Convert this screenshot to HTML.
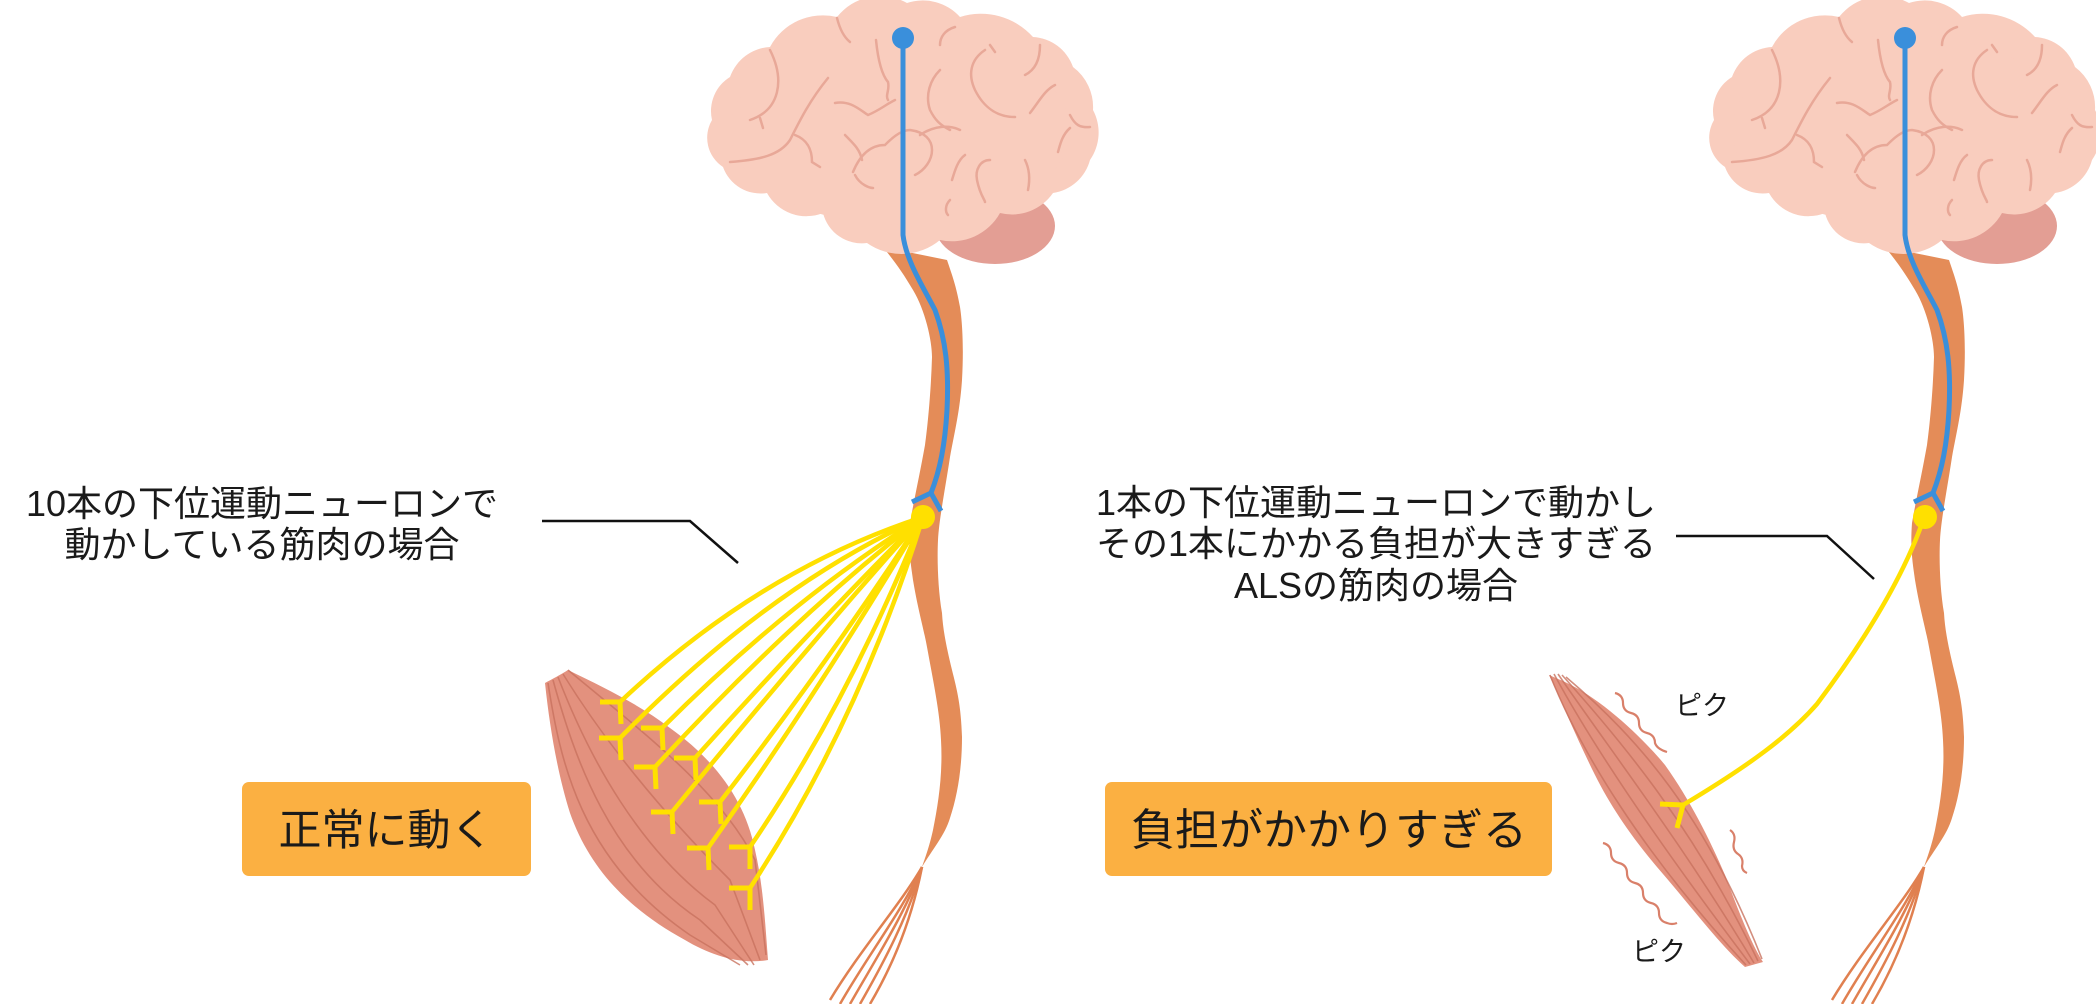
<!DOCTYPE html>
<html><head><meta charset="utf-8">
<style>
html,body{margin:0;padding:0;background:#fff;}
body{width:2096px;height:1004px;overflow:hidden;position:relative;}
svg{position:absolute;left:0;top:0;}
.t{font-family:"Liberation Sans","Noto Sans CJK JP",sans-serif;fill:#1a1a1a;}
</style></head><body>
<svg width="2096" height="1004" viewBox="0 0 2096 1004" xmlns="http://www.w3.org/2000/svg">
<defs>
<g id="brainspine">
  <ellipse cx="995" cy="226" rx="60" ry="38" fill="#E39E94"/>
  <path d="M883,247 C895,262 903,273 913,290 C925,310 932,340 932,357 C931,390 928,423 925,445 C920,473 914,500 910,523 C908,550 911,565 913,580 C918,610 924,630 927,647 C933,680 940,713 941,740 C943,775 938,805 933,830 C929,848 925,858 922,867 C932,850 945,835 950,818 C957,797 962,770 962,737 C961,705 957,690 952,670 C946,645 943,630 942,613 C938,590 937,560 938,540 C939,520 945,490 950,457 C955,430 960,410 962,380 C964,345 962,320 960,307 C956,285 952,275 947,260 Z" fill="#E48C58"/>
  <g stroke="#E08050" stroke-width="2.5" fill="none">
    <path d="M922,867 C900,905 860,950 830,1000"/>
    <path d="M922,867 C903,910 868,955 840,1004"/>
    <path d="M922,867 C906,912 875,960 850,1004"/>
    <path d="M922,867 C909,915 884,962 860,1004"/>
    <path d="M922,867 C912,918 893,965 870,1004"/>
  </g>
  <path d="M712,120 A40,40 0 0 1 730,77 A45,45 0 0 1 770,47 A60,60 0 0 1 837,17 A55,55 0 0 1 907,3 A50,50 0 0 1 960,17 A70,70 0 0 1 1033,37 A45,45 0 0 1 1073,67 A50,50 0 0 1 1093,110 A48,48 0 0 1 1090,160 A45,45 0 0 1 1053,193 A50,50 0 0 1 1000,213 A55,55 0 0 1 940,240 A60,60 0 0 1 867,243 A40,40 0 0 1 823,213 A45,45 0 0 1 767,193 A40,40 0 0 1 723,167 A35,35 0 0 1 712,120 Z" fill="#F9CDBE"/>
  <ellipse cx="900" cy="130" rx="170" ry="95" fill="#F9CDBE"/>
  <g stroke="#E8A898" stroke-width="2.5" fill="none" stroke-linecap="round">
    <path d="M770,50 C785,80 780,110 750,120"/>
    <path d="M760,118 L763,128"/>
    <path d="M828,78 C810,100 800,120 790,140 C780,155 760,160 730,162"/>
    <path d="M795,135 C808,140 812,150 812,162 L820,167"/>
    <path d="M837,18 C840,30 845,38 850,42"/>
    <path d="M876,40 C878,60 882,75 888,82 C890,90 885,95 888,100"/>
    <path d="M835,103 C850,100 860,110 868,115 C880,110 885,105 895,100"/>
    <path d="M845,135 C855,145 860,150 862,160"/>
    <path d="M853,172 C860,155 870,145 885,145 C890,140 900,130 910,130 C925,132 932,140 932,150 C932,160 925,170 915,175"/>
    <path d="M855,175 C860,185 870,188 873,188"/>
    <path d="M940,70 C930,80 925,95 930,110 C935,120 940,125 950,130"/>
    <path d="M920,135 C935,125 950,125 960,130"/>
    <path d="M955,27 C945,30 940,37 940,45"/>
    <path d="M985,50 C970,60 968,75 975,90 C985,110 1000,117 1015,117"/>
    <path d="M990,45 L995,52"/>
    <path d="M1040,45 C1040,60 1035,70 1025,75"/>
    <path d="M1055,85 C1045,90 1040,100 1030,113"/>
    <path d="M1070,115 C1075,125 1080,128 1090,127"/>
    <path d="M1070,128 C1062,135 1060,145 1058,152"/>
    <path d="M990,160 C980,160 975,170 977,180 C980,195 985,200 985,202"/>
    <path d="M1025,160 C1030,170 1030,180 1028,190"/>
    <path d="M950,200 C945,205 945,212 948,215"/>
    <path d="M952,180 C955,170 958,160 965,155"/>
  </g>
  <path d="M903,40 L903,235 C906,260 922,285 935,310 C946,340 949,370 947,410 C945,445 940,470 931,493" stroke="#3A8FDB" stroke-width="5" fill="none"/>
  <path d="M912,502 L931,493 L941,511" stroke="#3A8FDB" stroke-width="5" fill="none"/>
  <circle cx="903" cy="38" r="11" fill="#3A8FDB"/>
</g>
</defs>

<use href="#brainspine"/>
<path d="M545,683 C560,675 565,672 568,670 C605,688 640,705 670,728 C715,760 745,800 755,850 C763,885 765,920 768,960 C740,965 710,955 685,940 C630,910 590,870 570,813 C558,775 550,730 545,683 Z" fill="#E3917E"/>
<g stroke="#C9735F" stroke-width="1.6" fill="none" opacity="0.8">
  <path d="M548,683 C560,760 580,860 690,935 L740,965"/>
  <path d="M553,680 C575,760 610,860 700,920 L748,965"/>
  <path d="M558,677 C590,760 640,850 715,905 L754,965"/>
  <path d="M563,674 C610,750 670,820 730,880 L760,960"/>
  <path d="M568,670 C640,730 720,790 755,860 L766,955"/>
</g>
<g stroke="#FFE000" stroke-width="4.5" fill="none">
  <path d="M923,517 Q760,570 620,702"/>
  <path d="M923,517 Q770,585 620,738"/>
  <path d="M923,517 Q790,600 662,728"/>
  <path d="M923,517 Q790,620 655,767"/>
  <path d="M923,517 Q810,630 695,758"/>
  <path d="M923,517 Q800,655 672,812"/>
  <path d="M923,517 Q830,660 720,802"/>
  <path d="M923,517 Q820,690 708,848"/>
  <path d="M923,517 Q850,700 750,847"/>
  <path d="M923,517 Q860,720 750,888"/>
</g>
<g stroke="#FFE000" stroke-width="5" fill="none">
  <path d="M600,702 L620,702 L621,724"/>
  <path d="M599,738 L620,738 L621,760"/>
  <path d="M641,728 L662,728 L663,750"/>
  <path d="M634,767 L655,767 L656,789"/>
  <path d="M674,758 L695,758 L696,780"/>
  <path d="M651,812 L672,812 L673,834"/>
  <path d="M699,802 L720,802 L721,824"/>
  <path d="M687,848 L708,848 L709,870"/>
  <path d="M729,847 L750,847 L750,869"/>
  <path d="M729,888 L750,888 L750,910"/>
</g>
<circle cx="923" cy="517" r="12" fill="#FFE000"/>
<path d="M542,521 L690,521 L738,563" stroke="#111" stroke-width="2.5" fill="none"/>
<text class="t" x="262" y="516" font-size="36" text-anchor="middle">10本の下位運動ニューロンで</text>
<text class="t" x="262" y="557" font-size="36" text-anchor="middle">動かしている筋肉の場合</text>
<rect x="242" y="782" width="289" height="94" rx="7" fill="#FBB042"/>
<text class="t" x="386" y="845" font-size="43" text-anchor="middle">正常に動く</text>

<use href="#brainspine" transform="translate(1002,0)"/>
<path d="M1549,675 L1565,682 C1600,698 1640,735 1665,765 C1690,800 1710,840 1725,875 C1740,915 1752,945 1763,962 L1745,967 C1720,945 1690,905 1657,867 C1630,835 1610,805 1595,775 C1580,745 1565,710 1549,675 Z" fill="#E3917E"/>
<g stroke="#C9735F" stroke-width="1.6" fill="none" opacity="0.8">
  <path d="M1550,675 C1580,750 1640,850 1746,965"/>
  <path d="M1554,674 C1595,750 1660,845 1750,964"/>
  <path d="M1558,674 C1610,750 1680,840 1754,963"/>
  <path d="M1562,675 C1625,745 1695,830 1758,961"/>
  <path d="M1566,677 C1640,740 1705,815 1762,959"/>
</g>
<g stroke="#D9806A" stroke-width="2.2" fill="none">
  <path d="M1615,693 q8,2 8,10 q0,8 8,10 q8,2 8,10 q0,8 8,10 q8,2 8,10 q2,6 12,9"/>
  <path d="M1603,843 q8,2 8,10 q0,8 8,10 q8,2 8,10 q0,8 8,10 q8,2 8,10 q0,8 8,10 q8,2 8,10 q0,8 8,10 q5,2 10,0"/>
  <path d="M1730,830 q6,4 4,12 q-2,8 4,12 q6,4 4,12 q0,5 5,7"/>
</g>
<path d="M1925,515 C1910,560 1880,620 1817,704 C1790,735 1750,765 1683,805" stroke="#FFE000" stroke-width="4.5" fill="none"/>
<path d="M1660,804 L1683,805 L1677,828" stroke="#FFE000" stroke-width="5" fill="none"/>
<circle cx="1925" cy="517" r="12" fill="#FFE000"/>
<text class="t" x="1675" y="715" font-size="27">ピク</text>
<text class="t" x="1632" y="961" font-size="27">ピク</text>
<path d="M1676,536 L1827,536 L1874,579" stroke="#111" stroke-width="2.5" fill="none"/>
<text class="t" x="1376" y="515" font-size="36" text-anchor="middle">1本の下位運動ニューロンで動かし</text>
<text class="t" x="1376" y="556" font-size="36" text-anchor="middle">その1本にかかる負担が大きすぎる</text>
<text class="t" x="1376" y="598" font-size="36" text-anchor="middle">ALSの筋肉の場合</text>
<rect x="1105" y="782" width="447" height="94" rx="7" fill="#FBB042"/>
<text class="t" x="1329" y="845" font-size="44" text-anchor="middle">負担がかかりすぎる</text>
</svg>
</body></html>
